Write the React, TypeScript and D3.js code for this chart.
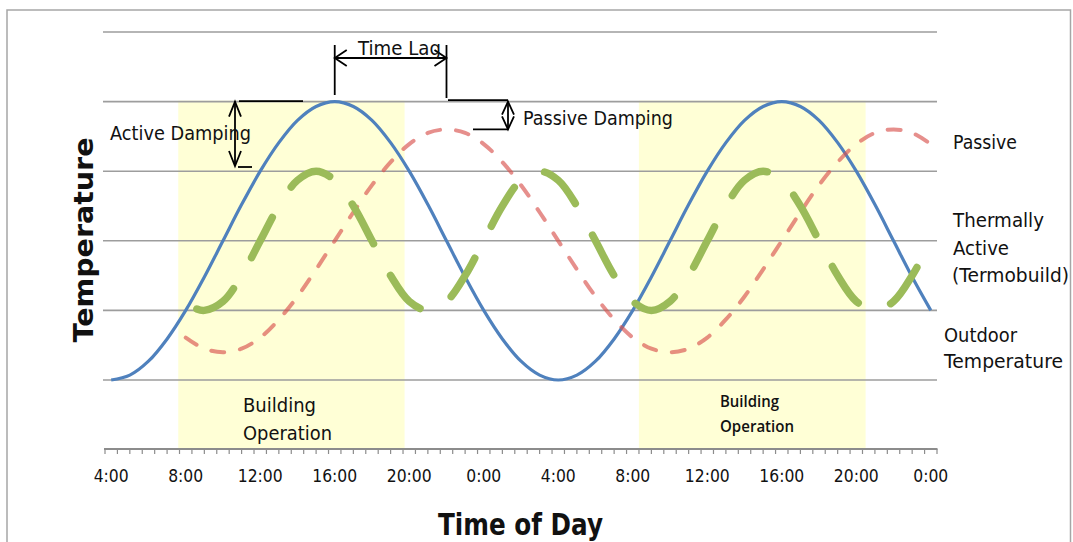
import React from 'react';
import * as d3 from 'd3';

// ---- data (hours counted from 4:00 on the first day) ----
const tickHours = [0, 4, 8, 12, 16, 20, 24, 28, 32, 36, 40, 44];
const tickLabels = ['4:00', '8:00', '12:00', '16:00', '20:00', '0:00', '4:00', '8:00', '12:00', '16:00', '20:00', '0:00'];
const gridLevels = [0, 1, 2, 3, 4, 5];

const outdoorHours = [0, 1, 2, 3, 4, 5, 6, 7, 8, 9, 10, 11, 12, 13, 14, 15, 16, 17, 18, 19, 20, 21, 22, 23, 24, 25, 26, 27, 28, 29, 30, 31, 32, 33, 34, 35, 36, 37, 38, 39, 40, 41, 42, 43, 44];
const outdoorValues = [0, 0.07, 0.27, 0.59, 1.0, 1.48, 2.0, 2.52, 3.0, 3.41, 3.73, 3.93, 4.0, 3.93, 3.73, 3.41, 3.0, 2.52, 2.0, 1.48, 1.0, 0.59, 0.27, 0.07, 0, 0.07, 0.27, 0.59, 1.0, 1.48, 2.0, 2.52, 3.0, 3.41, 3.73, 3.93, 4.0, 3.93, 3.73, 3.41, 3.0, 2.52, 2.0, 1.48, 1.0];

const passiveHours = [4, 5, 6, 7, 8, 9, 10, 11, 12, 13, 14, 15, 16, 17, 18, 19, 20, 21, 22, 23, 24, 25, 26, 27, 28, 29, 30, 31, 32, 33, 34, 35, 36, 37, 38, 39, 40, 41, 42, 43, 44];
const passiveValues = [0.61, 0.45, 0.4, 0.45, 0.61, 0.87, 1.2, 1.59, 2.0, 2.41, 2.8, 3.13, 3.39, 3.55, 3.6, 3.55, 3.39, 3.13, 2.8, 2.41, 2.0, 1.59, 1.2, 0.87, 0.61, 0.45, 0.4, 0.45, 0.61, 0.87, 1.2, 1.59, 2.0, 2.41, 2.8, 3.13, 3.39, 3.55, 3.6, 3.55, 3.39];

const activeHours = [4.6, 5, 6, 7, 8, 9, 10, 11, 12, 13, 14, 15, 16, 17, 18, 19, 20, 21, 22, 23, 24, 25, 26, 27, 28, 29, 30, 31, 32, 33, 34, 35, 36, 37, 38, 39, 40, 41, 42, 43, 44];
const activeValues = [1.02, 1.0, 1.13, 1.5, 2.0, 2.5, 2.87, 3.0, 2.87, 2.5, 2.0, 1.5, 1.13, 1.0, 1.13, 1.5, 2.0, 2.5, 2.87, 3.0, 2.87, 2.5, 2.0, 1.5, 1.13, 1.0, 1.13, 1.5, 2.0, 2.5, 2.87, 3.0, 2.87, 2.5, 2.0, 1.5, 1.13, 1.0, 1.13, 1.5, 2.0];

const bandStarts = [3.6, 28.33];
const bandEnds = [15.75, 40.5];

const FONT = "'DejaVu Sans', Verdana, sans-serif";

function Label({ x, y, w, size, children, weight = 400, anchor = 'start', family = FONT }: any) {
  return (
    <text x={x} y={y} fontSize={size} fontWeight={weight} fontFamily={family} textAnchor={anchor}
      textLength={w} lengthAdjust="spacingAndGlyphs" fill="#111">
      {children}
    </text>
  );
}

function chevron(px: number, py: number, dx: number, dy: number, L: number, W: number) {
  const nx = -dy, ny = dx;
  return `M${px - dx * L + nx * W},${py - dy * L + ny * W}L${px},${py}L${px - dx * L - nx * W},${py - dy * L - ny * W}`;
}

export default function App() {
  const W = 1073, H = 542;
  const x = d3.scaleLinear().domain([-1 / 3, 44 + 1 / 3]).range([105, 937]);
  const y = d3.scaleLinear().domain([0, 5]).range([380, 32]);
  const axisY = 449;
  const catWidth = (x(1) - x(0)) / 1.5;
  const minorTicks = d3.range(68).map(j => 105 + j * catWidth);

  const line = d3.line<[number, number]>()
    .x(d => x(d[0]))
    .y(d => y(d[1]))
    .curve(d3.curveCatmullRom.alpha(0.5));

  const outdoor = line(outdoorHours.map((h, i) => [h, outdoorValues[i]]));
  const passive = line(passiveHours.map((h, i) => [h, passiveValues[i]]));
  const active = line(activeHours.map((h, i) => [h, activeValues[i]]));

  const peakOut = x(12), peakPas = x(18);
  const lagY = 58;
  const adX = 235;
  const pdX = 508;

  return (
    <svg width={W} height={H} style={{ position: 'absolute', left: 0, top: 0, display: 'block', background: '#fff' }}>
      <rect x={7} y={10} width={1063.5} height={560} fill="#fff" stroke="#a6a6a6" strokeWidth={1.5} />

      {bandStarts.map((b, i) => (
        <rect key={i} x={x(b)} y={y(4) - 1} width={x(bandEnds[i]) - x(b)} height={axisY - y(4) + 1} fill="#ffffd6" />
      ))}

      {gridLevels.map(g => (
        <line key={g} x1={103} x2={937} y1={y(g)} y2={y(g)} stroke="#9d9d9d" strokeWidth={1.6} />
      ))}

      <line x1={104} x2={937.5} y1={axisY} y2={axisY} stroke="#8c8c8c" strokeWidth={2.2} />
      {minorTicks.map((t, i) => (
        <line key={i} x1={t} x2={t} y1={axisY} y2={axisY + 5} stroke="#8c8c8c" strokeWidth={1.2} />
      ))}
      {tickHours.map((h, i) => (
        <Label key={i} x={x(h)} y={482} size={17} anchor="middle" w={tickLabels[i].length > 4 ? 45 : 35}>{tickLabels[i]}</Label>
      ))}

      <path d={outdoor || ''} fill="none" stroke="#4f81bd" strokeWidth={3.2} />
      <path d={passive || ''} fill="none" stroke="#d9534f" strokeOpacity={0.65} strokeWidth={4} strokeDasharray="13 16" strokeLinecap="round" />
      <path d={active || ''} fill="none" stroke="#9bbb59" strokeWidth={7.5} strokeDasharray="45 36" strokeLinecap="round" />

      <g stroke="#000" strokeWidth={1.8} fill="none">
        <line x1={peakOut} x2={peakOut} y1={45} y2={95} />
        <line x1={peakPas} x2={peakPas} y1={45} y2={98} />
        <line x1={peakOut} x2={peakPas} y1={lagY} y2={lagY} />
        <path d={chevron(peakOut, lagY, -1, 0, 12, 8)} />
        <path d={chevron(peakPas, lagY, 1, 0, 12, 8)} />

        <line x1={239} x2={303} y1={y(4) - 0.5} y2={y(4) - 0.5} />
        <line x1={adX} x2={adX} y1={y(4)} y2={166} />
        <path d={chevron(adX, y(4), 0, -1, 15, 6)} />
        <path d={chevron(adX, 166, 0, 1, 15, 6)} />
        <line x1={238} x2={252} y1={167} y2={167} />

        <line x1={448} x2={pdX} y1={y(4) - 1.5} y2={y(4) - 1.5} />
        <line x1={473} x2={pdX} y1={y(3.6)} y2={y(3.6)} />
        <line x1={pdX} x2={pdX} y1={y(4)} y2={y(3.6)} />
        <path d={chevron(pdX, y(4), 0, -1, 13, 6)} />
        <path d={chevron(pdX, y(3.6), 0, 1, 13, 6)} />
      </g>

      <Label x={358} y={55} size={19} w={83}>Time Lag</Label>
      <Label x={110} y={140} size={19} w={141}>Active Damping</Label>
      <Label x={523} y={125} size={19} w={150}>Passive Damping</Label>

      <Label x={953} y={149} size={19} w={64}>Passive</Label>
      <Label x={953} y={227} size={19} w={91}>Thermally</Label>
      <Label x={953} y={255} size={19} w={56}>Active</Label>
      <Label x={952} y={282} size={19} w={117}>(Termobuild)</Label>
      <Label x={944} y={342} size={19} w={73}>Outdoor</Label>
      <Label x={944} y={368} size={19} w={119}>Temperature</Label>

      <Label x={243} y={412} size={19} w={73}>Building</Label>
      <Label x={243} y={440} size={19} w={89}>Operation</Label>
      <Label x={720} y={407} size={16} w={59} weight={600} family="'Open Sans', 'Noto Sans', sans-serif">Building</Label>
      <Label x={720} y={432} size={16} w={74} weight={600} family="'Open Sans', 'Noto Sans', sans-serif">Operation</Label>

      <Label x={520.5} y={535} size={31} w={165} weight={700} anchor="middle">Time of Day</Label>
      <g transform="translate(93,240) rotate(-90)">
        <Label x={0} y={0} size={26} w={205} weight={700} anchor="middle">Temperature</Label>
      </g>
    </svg>
  );
}
